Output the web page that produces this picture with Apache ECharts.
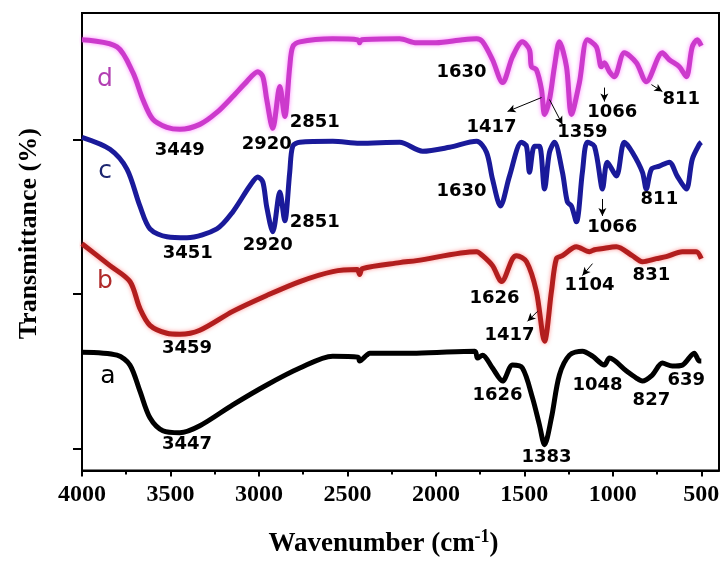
<!DOCTYPE html>
<html>
<head>
<meta charset="utf-8">
<script src="https://cdn.jsdelivr.net/npm/echarts@6/dist/echarts.min.js"></script>
<style>html,body{margin:0;padding:0;background:#fff}#chart{width:724px;height:563px}</style>
</head>
<body>
<div id="chart"></div>
<script>
// x tick values (wavenumber, cm-1)
const majorTicks = [4000, 3500, 3000, 2500, 2000, 1500, 1000, 500];
const minorTicks = [3750, 3250, 2750, 2250, 1750, 1250, 750];
// y tick values (transmittance, arbitrary offset units)
const yTicks = [22, 178, 333];

// spectra: [wavenumber, transmittance]
const curveA = [[4000,119],[3802,116],[3729,106],[3673,80],[3616,53],[3543,40],[3447,38],[3334,45],[3148,66],[2956,86],[2769,103],[2583,115],[2440,114],[2431,110],[2391,116],[2374,118],[2205,118],[2109,118],[1780,120],[1765,113],[1736,116],[1680,103],[1623,90],[1567,106],[1511,103],[1454,73],[1415,46],[1386,26],[1347,53],[1302,96],[1245,116],[1172,120],[1115,115],[1048,106],[1019,113],[923,100],[867,93],[833,90],[777,96],[720,108],[664,105],[607,106],[540,118],[511,110],[500,110]];
const curveB = [[4000,228],[3842,206],[3729,190],[3673,163],[3616,146],[3520,138],[3447,137],[3334,141],[3148,160],[2956,176],[2769,190],[2583,200],[2445,202],[2431,197],[2415,203],[2205,209],[2109,211],[1770,220],[1736,216],[1680,206],[1629,190],[1567,213],[1544,216],[1488,210],[1432,180],[1386,130],[1347,180],[1319,213],[1285,216],[1206,225],[1132,220],[1104,222],[1065,223],[980,225],[890,216],[833,210],[754,213],[698,215],[607,220],[529,220],[500,213]];
const curveC = [[4000,335],[3842,323],[3746,303],[3673,266],[3616,243],[3520,235],[3407,234],[3238,243],[3148,260],[3052,286],[3006,295],[2978,290],[2956,265],[2922,240],[2882,280],[2854,251],[2826,300],[2809,326],[2769,330],[2583,331],[2431,329],[2205,330],[2075,321],[1923,325],[1770,331],[1714,320],[1680,293],[1635,266],[1584,296],[1516,330],[1488,326],[1471,300],[1443,326],[1415,326],[1386,283],[1358,320],[1330,330],[1285,300],[1257,270],[1234,266],[1206,250],[1172,300],[1144,330],[1104,326],[1065,286],[1059,283],[1031,310],[980,296],[935,330],[890,320],[833,300],[811,283],[782,303],[737,306],[681,310],[636,296],[585,283],[551,313],[511,328],[500,330]];
const curveD = [[4000,433],[3802,426],[3712,400],[3656,373],[3599,353],[3520,345],[3447,343],[3334,348],[3238,360],[3148,376],[3069,391],[3006,401],[2978,396],[2956,373],[2922,344],[2882,386],[2854,356],[2826,406],[2809,426],[2769,431],[2583,434],[2440,433],[2431,430],[2420,433],[2205,434],[2109,430],[2000,430],[1850,433],[1770,434],[1736,431],[1680,413],[1623,390],[1567,416],[1511,431],[1471,423],[1460,406],[1432,403],[1403,383],[1386,358],[1358,373],[1330,406],[1302,431],[1262,406],[1234,358],[1189,390],[1144,433],[1093,426],[1065,406],[1048,410],[1019,401],[991,396],[935,420],[867,410],[811,391],[720,420],[681,413],[624,406],[585,396],[551,426],[523,433],[500,427]];

// curve letters: [text, wavenumber, transmittance]
const curveLetters = [['d',3870,393],['c',3870,301],['b',3870,190],['a',3853,95]];
const letterColors = ['#B23FB2','#1C2670','#B02A2A','#000000'];

// peak labels: [text, wavenumber, transmittance]
const peakLabels = [
  ['3449',3447,322],['2920',2956,328],['2851',2685,350],['1630',1855,400],['1417',1686,345],['1359',1172,340],['1066',1003,360],['811',613,373],
  ['3451',3402,218],['2920',2950,226],['2851',2685,250],['1630',1855,281],['1066',1003,245],['811',737,273],
  ['3459',3407,123],['1626',1669,173],['1417',1584,136],['1104',1132,186],['831',782,196],
  ['3447',3407,26],['1626',1652,76],['1383',1375,13],['1048',1087,86],['827',782,71],['639',585,91]
];
// arrows: [from wn, from T, to wn, to T]
const arrows = [
  [1403,375,1595,361],[1358,373,1285,348],[1048,385,1048,371],[782,388,720,381],
  [1059,273,1059,256],
  [1426,160,1482,150],[1115,208,1172,196]
];

const chart = echarts.init(document.getElementById('chart'), null, {renderer:'canvas'});
const serifBold = {fontFamily:'Liberation Serif', fontWeight:'bold', color:'#000'};

function lineSeries(name, data, color, glow){
  return {
    name, type:'line', data, showSymbol:false, smooth:0.3, z:3,
    lineStyle:{width:5, color, shadowBlur: glow ? 4 : 0, shadowColor: glow || 'transparent'},
    silent:true, animation:false
  };
}

const option = {
  animation:false,
  grid:{left:82, top:13, right:5, bottom:90, show:true, borderColor:'#000', borderWidth:2, backgroundColor:'transparent'},
  xAxis:[{
    type:'value', inverse:true, min:400, max:4000, position:'bottom',
    axisLine:{show:true, onZero:false, lineStyle:{color:'#000', width:2}},
    axisTick:{show:true, inside:false, length:6, customValues:majorTicks, lineStyle:{color:'#000', width:2}},
    axisLabel:{customValues:majorTicks, fontSize:24, margin:12, formatter:v=>String(v), ...serifBold},
    splitLine:{show:false},
    name:'{m|Wavenumber (cm}{s|-1}{m|)}', nameLocation:'middle', nameGap:58,
    nameTextStyle:{padding:[0,34,0,0], rich:{
      m:{fontSize:27, ...serifBold},
      s:{fontSize:18, verticalAlign:'bottom', padding:[0,0,14,0], ...serifBold}
    }}
  },{
    type:'value', inverse:true, min:400, max:4000, position:'bottom',
    axisLine:{show:false},
    axisTick:{show:true, inside:false, length:4, customValues:minorTicks, lineStyle:{color:'#000', width:2}},
    axisLabel:{show:false}, splitLine:{show:false}
  }],
  yAxis:{
    type:'value', min:0, max:460,
    axisLine:{show:true, onZero:false, lineStyle:{color:'#000', width:2}},
    axisTick:{show:true, inside:false, length:9, customValues:yTicks, lineStyle:{color:'#000', width:2}},
    axisLabel:{show:false}, splitLine:{show:false},
    name:'Transmittance (%)', nameLocation:'middle', nameGap:40,
    nameTextStyle:{fontSize:26, padding:[0,0,0,16], ...serifBold}
  },
  series:[
    lineSeries('a', curveA, '#000000'),
    lineSeries('b', curveB, '#B21E1E', 'rgba(255,80,80,0.6)'),
    lineSeries('c', curveC, '#1A1A9A'),
    lineSeries('d', curveD, '#CC3ACC', 'rgba(255,60,255,0.6)'),
    {
      type:'scatter', symbolSize:0, silent:true, z:5, itemStyle:{opacity:1},
      data: curveLetters.map((l,i)=>({value:[l[1],l[2]], name:l[0], label:{color:letterColors[i]}})),
      label:{show:true, position:'inside', opacity:1, formatter:p=>p.name, fontFamily:'DejaVu Sans', fontSize:25}
    },
    {
      type:'scatter', symbolSize:0, silent:true, z:6, itemStyle:{opacity:1},
      data: peakLabels.map(l=>({value:[l[1],l[2]], name:l[0]})),
      label:{show:true, position:'inside', opacity:1, formatter:p=>p.name, fontFamily:'DejaVu Sans', fontWeight:'bold', fontSize:18, color:'#000'},
      markLine:{
        silent:true, symbol:['none','arrow'], symbolSize:[6,8],
        label:{show:false},
        lineStyle:{color:'#000', width:1, type:'solid', opacity:1},
        data: arrows.map(a=>[{coord:[a[0],a[1]]},{coord:[a[2],a[3]]}])
      }
    }
  ]
};
chart.setOption(option);
</script>
</body>
</html>
